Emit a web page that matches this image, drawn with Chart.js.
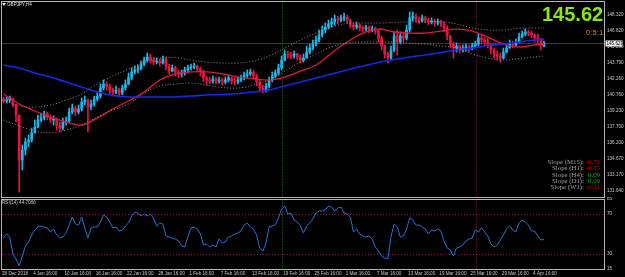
<!DOCTYPE html>
<html><head><meta charset="utf-8">
<script src="https://cdn.jsdelivr.net/npm/chart.js@4"></script>
<style>
html,body{margin:0;padding:0;background:#000;width:625px;height:277px;overflow:hidden;position:relative;}
canvas{position:absolute;left:0;}
#main{top:0;}
#rsi{top:197px;}
.t{position:absolute;white-space:nowrap;font-family:'Liberation Sans',Arial,sans-serif;}
#slope{position:absolute;left:530px;top:158.8px;font-family:'Liberation Serif','Times New Roman',serif;font-size:6.8px;line-height:6.4px;}
#slope .row{display:flex;height:6.4px;}
#slope .lab{width:54px;text-align:right;color:#a0a0a0;}
#slope .val{width:16px;text-align:right;}
</style></head><body>
<canvas id="main" width="625" height="200"></canvas>
<canvas id="rsi" width="625" height="80"></canvas>
<div style="position:absolute;left:2px;top:3px;width:0;height:0;border-left:2px solid transparent;border-right:2px solid transparent;border-top:3px solid #e8e8e8"></div>
<div class="t" id="sym" style="left:7px;top:1.5px;font-size:4.6px;line-height:6px;color:#e0e0e0"></div>
<div class="t" id="big" style="left:542px;top:3.6px;font-weight:bold;font-size:20px;line-height:20px;color:#88e816"></div>
<div class="t" id="ratio" style="left:586px;top:28.5px;font-size:7px;line-height:7px;color:#e08a18;letter-spacing:0.4px"></div>
<div id="slope"></div>
<div class="t" id="rsiTitle" style="left:2px;top:199.5px;font-size:4.6px;line-height:5px;color:#c8c8c8"></div>
<script>
const symbolLabel = 'GBPJPY,H4';
const ratioLabel = '0:5:1';
const currentBid = 145.621;
const rsiLabel = 'RSI(14) 44.7086';
const slopeFrames = ['M15','H1','H4','D1','W1'];
const slopeValues = [-0.73,-0.35,0.09,0.19,-0.11];

const firstOpen = 140.36;
const closes = [
140.17,140.26,140.45,139.79,138.84,134.58,135.52,136.28,136.47,137.14,
137.70,138.37,138.56,138.94,138.65,138.37,138.46,137.89,137.61,138.18,
138.27,139.13,139.51,139.13,139.41,140.07,140.26,139.60,139.88,140.36,
140.64,141.40,141.78,141.59,141.21,141.02,141.21,140.93,141.40,141.78,
142.35,142.92,143.11,143.20,143.67,144.05,144.34,144.05,143.86,143.96,
143.77,144.15,143.49,143.01,143.30,142.92,142.73,142.82,143.11,143.30,
143.39,143.49,143.20,142.92,142.35,142.16,142.06,142.25,142.06,142.16,
141.97,142.16,142.35,142.06,141.97,142.16,142.35,142.63,142.73,142.92,
142.54,141.97,141.40,141.21,141.59,142.16,142.54,142.82,143.30,144.05,
144.62,144.53,144.43,144.62,144.34,144.05,144.24,144.81,145.19,145.57,
145.95,146.42,146.90,147.18,147.47,147.66,147.94,147.84,148.03,148.13,
147.84,147.37,147.18,147.37,147.09,146.99,147.18,146.90,146.99,146.80,
146.14,145.38,144.62,144.24,145.00,146.33,145.76,146.33,146.14,146.90,
148.03,148.22,147.94,147.75,148.03,147.84,147.66,147.75,147.56,147.66,
147.47,147.09,146.33,145.57,145.19,145.38,145.00,145.19,145.29,145.10,
145.38,145.57,146.14,145.95,145.76,145.57,145.00,144.62,144.43,144.24,
144.81,145.19,145.57,145.48,145.76,146.23,146.52,146.71,146.61,146.42,
146.14,145.95,145.38,145.62];
const highs = [
140.55,140.55,140.64,140.45,139.88,138.84,136.00,136.66,136.95,137.61,
138.37,138.84,139.03,139.22,139.13,138.84,138.75,138.56,138.18,138.56,
138.65,139.51,139.88,139.69,139.79,140.45,140.64,140.36,140.26,140.64,
141.02,141.78,142.16,141.97,141.78,141.40,141.59,141.40,141.68,142.16,
142.82,143.30,143.49,143.58,143.96,144.34,144.72,144.62,144.34,144.24,
144.15,144.43,144.34,143.67,143.58,143.49,143.11,143.11,143.39,143.58,
143.67,143.77,143.58,143.39,143.11,142.54,142.44,142.54,142.44,142.44,
142.35,142.44,142.63,142.44,142.35,142.44,142.63,142.92,143.11,143.20,
143.11,142.73,142.16,141.68,141.87,142.44,142.92,143.11,143.67,144.43,
145.00,144.91,144.81,144.91,144.72,144.53,144.62,145.38,145.57,145.95,
146.33,146.90,147.28,147.56,147.84,148.03,148.32,148.22,148.32,148.51,
148.32,147.94,147.56,147.66,147.47,147.28,147.37,147.28,147.28,147.18,
146.90,146.33,145.48,144.81,145.38,146.71,146.90,146.71,146.61,147.37,
148.60,148.60,148.41,148.13,148.32,148.22,148.03,148.03,147.94,147.94,
147.84,147.66,147.28,146.42,145.76,145.67,145.48,145.48,145.57,145.48,
145.67,145.85,146.52,146.42,146.23,146.14,145.57,145.19,144.91,144.72,
145.19,145.48,145.95,145.85,146.04,146.61,146.80,146.99,146.90,146.80,
146.52,146.52,146.14,145.85];
const lows = [
139.98,139.98,140.07,139.60,138.18,131.54,133.63,135.05,135.81,136.28,
137.14,137.61,138.18,138.37,138.37,138.08,137.89,137.42,137.23,137.42,
137.89,138.08,138.94,138.75,138.94,139.22,139.79,137.23,139.32,139.69,
140.17,140.45,141.21,141.21,140.83,140.64,140.83,140.64,140.74,141.21,
141.68,142.16,142.73,142.82,143.11,143.49,143.86,143.77,143.58,143.67,
143.49,143.67,143.11,142.73,142.92,142.54,142.35,142.44,142.63,142.92,
143.11,143.20,142.92,142.54,141.97,141.68,141.78,141.87,141.78,141.87,
141.68,141.78,141.97,141.78,141.68,141.78,141.97,142.16,142.35,142.54,
142.25,141.59,141.02,140.93,141.02,141.40,141.97,142.35,142.63,143.11,
143.96,144.24,144.15,144.24,144.05,143.77,143.86,144.24,144.62,145.00,
145.38,145.76,146.23,146.61,146.99,147.18,147.37,147.47,147.66,147.75,
147.56,147.09,146.90,146.99,146.80,146.71,146.80,146.61,146.71,146.52,
145.76,145.00,144.24,143.77,144.05,144.81,144.53,145.57,145.76,145.95,
146.71,147.75,147.66,147.47,147.66,147.56,147.37,147.47,147.28,147.37,
147.18,146.71,145.95,145.19,144.24,144.81,144.72,144.81,144.91,144.81,
145.00,145.19,145.38,145.57,145.48,145.19,144.62,144.24,144.05,143.86,
144.15,144.72,145.19,145.19,145.38,145.67,146.14,146.33,146.33,146.14,
145.76,145.57,145.00,145.29];

const maBars = [0,5,10,15,20,25,30,35,40,45,50,55,60,65,70,75,80,85,90,95,100,105,110,115,120,125,130,135,140,145,150,155,160,165,170,173];
const maRed = [140.83,139.88,139.22,138.65,138.18,137.89,138.56,139.41,140.17,141.02,142.16,142.73,142.92,142.92,142.73,142.44,142.30,142.16,142.44,143.01,143.58,144.72,145.76,146.61,146.99,146.71,146.61,146.61,146.80,146.99,146.80,146.23,145.57,145.29,145.48,145.57];
const maBlue = [143.58,143.30,142.82,142.44,141.97,141.50,141.02,140.69,140.55,140.55,140.55,140.55,140.64,140.74,140.78,140.88,141.02,141.21,141.59,141.97,142.35,142.73,143.11,143.49,143.82,144.10,144.34,144.53,144.77,145.00,145.19,145.43,145.57,145.76,145.95,146.04];
const bandUpper = [140.26,139.69,139.60,139.79,140.26,140.83,141.78,142.54,143.20,143.86,144.24,144.29,144.05,143.86,143.77,143.77,143.96,144.43,145.19,145.95,146.61,147.18,147.51,147.56,147.56,147.61,147.66,147.66,147.70,147.47,147.09,146.90,146.90,147.04,147.09,147.09];
const bandLower = [138.37,137.80,137.33,137.14,137.42,137.89,138.65,139.32,139.88,140.93,141.59,141.78,141.87,141.68,141.45,141.40,141.68,142.16,143.01,143.86,144.62,145.29,145.67,145.76,145.76,145.76,145.67,145.57,145.38,145.19,144.62,144.24,144.05,144.19,144.34,144.43];

const rsiValues = [
46,50,47,30,25,18,28,38,42,49,
54,57,58,57,56,52,55,49,46,47,
51,59,67,60,59,67,56,46,56,57,
57,62,69,67,62,56,57,53,54,58,
61,68,72,71,68,70,68,70,66,58,
61,60,48,47,46,45,43,38,37,47,
56,57,55,50,39,40,37,39,37,45,
41,42,47,48,50,51,53,59,61,57,
55,49,36,33,41,57,58,59,66,75,
78,70,71,64,62,58,51,58,61,65,
71,73,73,74,78,77,73,76,77,71,
70,67,52,55,50,48,47,48,45,37,
33,28,26,25,47,60,57,47,48,55,
66,64,59,59,57,55,50,54,53,55,
53,43,36,34,28,36,37,39,43,45,
46,54,52,56,52,48,40,37,39,44,
49,55,58,54,52,61,64,62,59,53,
53,48,44,44.71];
const rsiLevels = [70,30];
const rsiTickValues = [15,30,70,85];
const priceTickLabels = ['131.640','133.170','134.670','136.200','137.700','139.230','140.760','142.260','143.790','145.290','146.820','148.320'];
const timeTickBars = [0,10,20,30,40,50,60,70,80,90,100,110,120,130,140,150,160,170];
const timeTickLabels = ['28 Dec 2018','4 Jan 16:00','10 Jan 16:00','16 Jan 16:00','22 Jan 16:00','28 Jan 16:00','1 Feb 16:00','7 Feb 16:00','13 Feb 16:00','19 Feb 16:00','25 Feb 16:00','1 Mar 16:00','7 Mar 16:00','13 Mar 16:00','19 Mar 16:00','25 Mar 16:00','29 Mar 16:00','4 Apr 16:00'];
const markerBars = [89.5, 151.8];

// ---------- text overlays ----------
document.getElementById('sym').textContent = symbolLabel;
document.getElementById('big').textContent = currentBid.toFixed(2);
document.getElementById('ratio').textContent = ratioLabel;
document.getElementById('rsiTitle').textContent = rsiLabel;
const slopeBox = document.getElementById('slope');
slopeFrames.forEach((f,k)=>{
  const row = document.createElement('div'); row.className='row';
  const a = document.createElement('span'); a.className='lab'; a.textContent = 'Slope ('+f+'):';
  const b = document.createElement('span'); b.className='val'; b.textContent = slopeValues[k].toFixed(2);
  b.style.color = slopeValues[k] < 0 ? '#e80000' : '#10c010';
  row.appendChild(a); row.appendChild(b); slopeBox.appendChild(row);
});

// ---------- styling ----------
Chart.defaults.font.family = "'Liberation Sans', Arial, sans-serif";
const UP = '#1db7ec', DN = '#e3163d';
const AXIS_TXT = '#c8c8c8';
const X_MAX = 192.7;
const markerColors = ['#2f7a2f', '#8d1f44'];

const opens = closes.map((c,i)=> i===0 ? firstOpen : closes[i-1]);
const candleCol = closes.map((c,i)=> c >= opens[i] ? UP : DN);
const bodyData = closes.map((c,i)=>({x:i+0.5, y:[opens[i], c]}));
const wickData = closes.map((c,i)=>({x:i+0.5, y:[lows[i], highs[i]]}));
const seriesPts = vals => maBars.map((b,k)=>({x:b+0.5, y:vals[k]}));

function framePlugin(dt, db){
  return {id:'frame', afterDraw(chart){
    const {ctx, chartArea:a} = chart;
    ctx.save(); ctx.strokeStyle='#b4b4b4'; ctx.lineWidth=1;
    ctx.strokeRect(a.left-0.5, a.top-dt, a.right-a.left+1, a.bottom-a.top+dt+db);
    ctx.restore();
  }};
}
function markerPlugin(extTop, extBottom){
  return {id:'markers', beforeDatasetsDraw(chart){
    const {ctx, chartArea:a, scales:{x}} = chart;
    ctx.save(); ctx.lineWidth=1; ctx.setLineDash([1,2]);
    markerBars.forEach((b,k)=>{
      const px = Math.round(x.getPixelForValue(b))+0.5;
      ctx.strokeStyle = markerColors[k];
      ctx.beginPath(); ctx.moveTo(px, a.top-extTop); ctx.lineTo(px, a.bottom+extBottom); ctx.stroke();
    });
    ctx.restore();
  }};
}
const priceLinePlugin = {id:'priceLine', beforeDatasetsDraw(chart){
  const {ctx, chartArea:a, scales:{y}} = chart;
  const py = Math.round(y.getPixelForValue(currentBid))+0.5;
  ctx.save(); ctx.strokeStyle='#5c1690'; ctx.lineWidth=1;
  ctx.beginPath(); ctx.moveTo(a.left, py); ctx.lineTo(a.right, py); ctx.stroke();
  ctx.restore();
}, afterDraw(chart){
  const {ctx, chartArea:a, scales:{y}} = chart;
  const py = y.getPixelForValue(currentBid);
  ctx.save(); ctx.fillStyle='#ececec'; ctx.fillRect(a.right+1.5, py-3, 17, 6);
  ctx.fillStyle='#000'; ctx.font="4.6px 'Liberation Sans'"; ctx.textBaseline='middle';
  ctx.fillText(currentBid.toFixed(3), a.right+2.5, py+0.3);
  ctx.restore();
}};
const rsiLevelPlugin = {id:'rsiLevels', beforeDatasetsDraw(chart){
  const {ctx, chartArea:a, scales:{y}} = chart;
  ctx.save(); ctx.strokeStyle='#80204a'; ctx.lineWidth=1; ctx.setLineDash([1,2]);
  rsiLevels.forEach(v=>{ const py = Math.round(y.getPixelForValue(v))+0.5;
    ctx.beginPath(); ctx.moveTo(a.left, py); ctx.lineTo(a.right, py); ctx.stroke(); });
  ctx.restore();
}};

// ---------- main price chart ----------
new Chart(document.getElementById('main'), {
  type:'bar',
  data:{datasets:[
    {type:'line', data:seriesPts(bandUpper), borderColor:'#8e8e8e', borderWidth:1, borderDash:[1,2], pointRadius:0, tension:0.4, order:0},
    {type:'line', data:seriesPts(bandLower), borderColor:'#8e8e8e', borderWidth:1, borderDash:[1,2], pointRadius:0, tension:0.4, order:0},
    {type:'line', data:seriesPts(maBlue), borderColor:'#1428f0', borderWidth:1.6, pointRadius:0, tension:0.4, order:0},
    {type:'line', data:seriesPts(maRed), borderColor:'#e2163e', borderWidth:1.3, pointRadius:0, tension:0.4, order:0},
    {type:'bar', data:wickData, backgroundColor:candleCol, barThickness:1, grouped:false, borderWidth:0, order:2},
    {type:'bar', data:bodyData, backgroundColor:candleCol, barThickness:2, grouped:false, borderWidth:0, minBarLength:1, order:1}
  ]},
  options:{
    responsive:false, animation:false, devicePixelRatio:1, events:[],
    layout:{padding:{left:2, top:3, right:0, bottom:3}},
    plugins:{legend:{display:false}, tooltip:{enabled:false}},
    scales:{
      x:{type:'linear', min:0, max:X_MAX, display:false, offset:false, grid:{offset:false}},
      y:{type:'linear', position:'right', min:131.071, max:149.457,
         grid:{display:false, drawTicks:true, tickLength:3}, border:{display:false},
         ticks:{autoSkip:false, padding:0, color:AXIS_TXT, font:{size:4.6},
                callback:(v,i)=>priceTickLabels[i]},
         afterBuildTicks:s=>{ s.ticks = priceTickLabels.map(t=>({value:parseFloat(t)})); },
         afterFit:s=>{ s.width = 21; }}
    }
  },
  plugins:[markerPlugin(1.5, 0.5), priceLinePlugin, framePlugin(1.5, 0.5)]
});

// ---------- RSI chart ----------
new Chart(document.getElementById('rsi'), {
  type:'line',
  data:{datasets:[
    {data:rsiValues.map((v,i)=>({x:i+0.5, y:v})), borderColor:'#2b6fd0', borderWidth:1, pointRadius:0, tension:0}
  ]},
  options:{
    responsive:false, animation:false, devicePixelRatio:1, events:[],
    layout:{padding:{left:2, top:3, right:0, bottom:0}},
    plugins:{legend:{display:false}, tooltip:{enabled:false}},
    scales:{
      x:{type:'linear', min:0, max:X_MAX, offset:false,
         grid:{display:false, drawTicks:false}, border:{display:false},
         ticks:{autoSkip:false, maxRotation:0, align:'start', padding:2, color:AXIS_TXT, font:{size:4.6},
                callback:(v,i)=>timeTickLabels[i]},
         afterBuildTicks:s=>{ s.ticks = timeTickBars.map(b=>({value:b})); },
         afterFit:s=>{ s.height = 8; }},
      y:{type:'linear', position:'right', min:15, max:84,
         grid:{display:false, drawTicks:true, tickLength:3}, border:{display:false},
         ticks:{autoSkip:false, padding:0, color:AXIS_TXT, font:{size:4.6},
                callback:(v,i)=>String(rsiTickValues[i])},
         afterBuildTicks:s=>{ s.ticks = rsiTickValues.map(v=>({value:v})); },
         afterFit:s=>{ s.width = 21; }}
    }
  },
  plugins:[markerPlugin(0.5, 0.5), rsiLevelPlugin, framePlugin(0.5, 0.5)]
});
</script>
</body></html>
